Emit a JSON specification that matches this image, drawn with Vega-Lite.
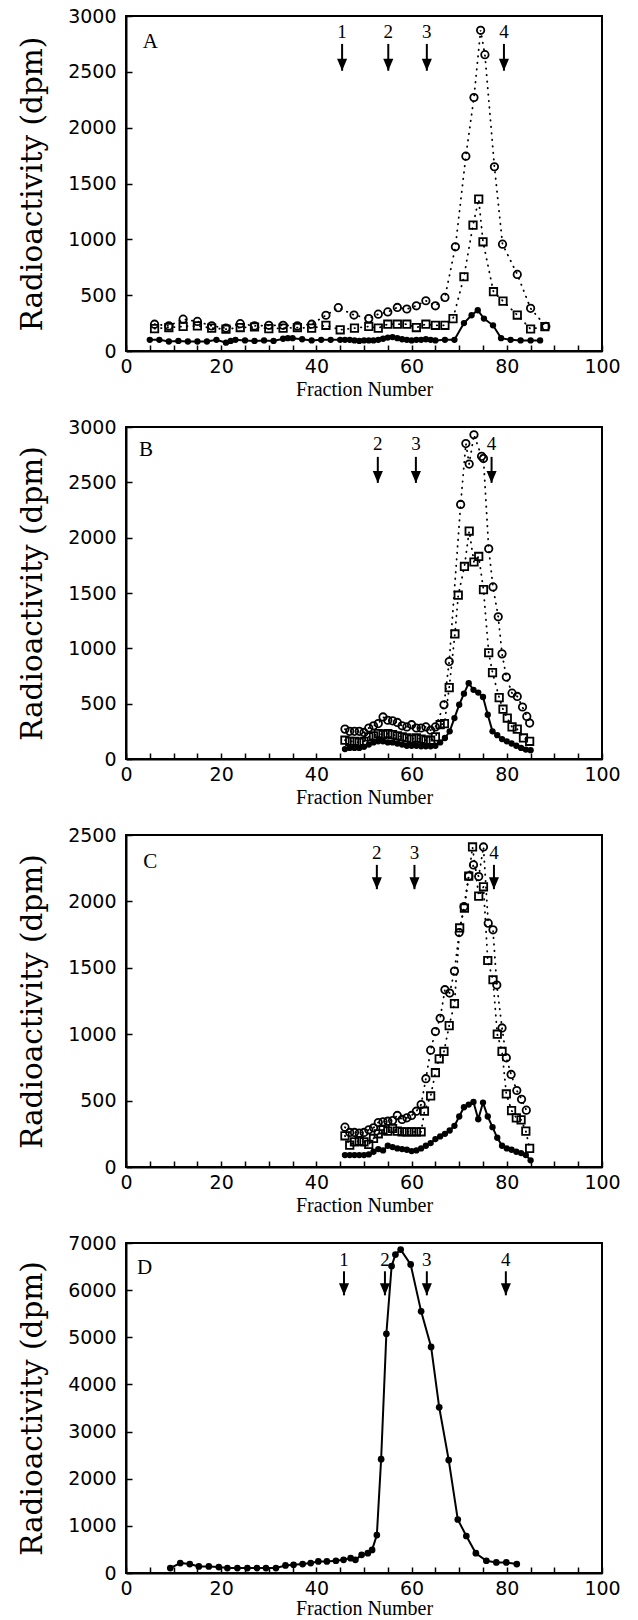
{
"$schema": "https://vega.github.io/schema/vega-lite/v6.json",
"padding": {"left": 16, "top": 6, "right": 5, "bottom": 0},
"background": "white",
"spacing": 76,
"bounds": "flush",
"config": {
 "view": {"stroke": "black", "strokeWidth": 2},
 "axis": {"domainColor": "black", "domainWidth": 2, "tickColor": "black", "tickWidth": 1.5, "grid": false, "labelColor": "black", "titleColor": "black", "labelFont": "DejaVu Sans", "labelFontSize": 19, "titleFontWeight": "normal", "labelFlush": false, "labelOverlap": false, "tickSize": -6},
 "axisX": {"labelPadding": 12, "titleFont": "Liberation Serif", "titleFontSize": 20, "titlePadding": 3},
 "axisY": {"labelPadding": 16, "titleFont": "DejaVu Serif", "titleFontSize": 29.5, "titlePadding": 20, "format": "d"},
 "line": {"color": "black"},
 "point": {"color": "black", "opacity": 1},
 "rule": {"color": "black"},
 "text": {"color": "black"}
},
"datasets": {
 "pts": [
  {"p":"A","s":"solid","f":5,"v":100},{"p":"A","s":"solid","f":7,"v":100},{"p":"A","s":"solid","f":9,"v":85},{"p":"A","s":"solid","f":11,"v":90},{"p":"A","s":"solid","f":13,"v":85},{"p":"A","s":"solid","f":15,"v":85},{"p":"A","s":"solid","f":17,"v":85},{"p":"A","s":"solid","f":19,"v":100},{"p":"A","s":"solid","f":21,"v":75},{"p":"A","s":"solid","f":22,"v":90},{"p":"A","s":"solid","f":23,"v":100},{"p":"A","s":"solid","f":25,"v":95},{"p":"A","s":"solid","f":27,"v":90},{"p":"A","s":"solid","f":29,"v":95},{"p":"A","s":"solid","f":31,"v":90},{"p":"A","s":"solid","f":33,"v":110},{"p":"A","s":"solid","f":34,"v":115},{"p":"A","s":"solid","f":35,"v":115},{"p":"A","s":"solid","f":37,"v":105},{"p":"A","s":"solid","f":39,"v":95},{"p":"A","s":"solid","f":41,"v":100},{"p":"A","s":"solid","f":43,"v":100},{"p":"A","s":"solid","f":45,"v":100},{"p":"A","s":"solid","f":46,"v":100},{"p":"A","s":"solid","f":47,"v":100},{"p":"A","s":"solid","f":48,"v":95},{"p":"A","s":"solid","f":49,"v":90},{"p":"A","s":"solid","f":50,"v":95},{"p":"A","s":"solid","f":51,"v":95},{"p":"A","s":"solid","f":52,"v":95},{"p":"A","s":"solid","f":53,"v":100},{"p":"A","s":"solid","f":54,"v":110},{"p":"A","s":"solid","f":55,"v":120},{"p":"A","s":"solid","f":56,"v":125},{"p":"A","s":"solid","f":57,"v":115},{"p":"A","s":"solid","f":58,"v":105},{"p":"A","s":"solid","f":59,"v":100},{"p":"A","s":"solid","f":60,"v":95},{"p":"A","s":"solid","f":61,"v":100},{"p":"A","s":"solid","f":62,"v":100},{"p":"A","s":"solid","f":63,"v":105},{"p":"A","s":"solid","f":64,"v":100},{"p":"A","s":"solid","f":65,"v":95},{"p":"A","s":"solid","f":67,"v":100},{"p":"A","s":"solid","f":69,"v":100},{"p":"A","s":"solid","f":71,"v":250},{"p":"A","s":"solid","f":72.6,"v":320},{"p":"A","s":"solid","f":73.9,"v":365},{"p":"A","s":"solid","f":75.2,"v":290},{"p":"A","s":"solid","f":77.1,"v":230},{"p":"A","s":"solid","f":78.8,"v":115},{"p":"A","s":"solid","f":80.8,"v":100},{"p":"A","s":"solid","f":82.9,"v":95},{"p":"A","s":"solid","f":85,"v":95},{"p":"A","s":"solid","f":87,"v":95},
  {"p":"A","s":"circle","f":6,"v":240},{"p":"A","s":"circle","f":9,"v":225},{"p":"A","s":"circle","f":12,"v":285},{"p":"A","s":"circle","f":15,"v":265},{"p":"A","s":"circle","f":18,"v":225},{"p":"A","s":"circle","f":21,"v":205},{"p":"A","s":"circle","f":24,"v":245},{"p":"A","s":"circle","f":27,"v":225},{"p":"A","s":"circle","f":30,"v":230},{"p":"A","s":"circle","f":33,"v":230},{"p":"A","s":"circle","f":36,"v":225},{"p":"A","s":"circle","f":39,"v":240},{"p":"A","s":"circle","f":42,"v":320},{"p":"A","s":"circle","f":44.6,"v":388},{"p":"A","s":"circle","f":47.9,"v":322},{"p":"A","s":"circle","f":51,"v":290},{"p":"A","s":"circle","f":53,"v":330},{"p":"A","s":"circle","f":55,"v":350},{"p":"A","s":"circle","f":57,"v":390},{"p":"A","s":"circle","f":59,"v":376},{"p":"A","s":"circle","f":61,"v":405},{"p":"A","s":"circle","f":63,"v":450},{"p":"A","s":"circle","f":65,"v":405},{"p":"A","s":"circle","f":67,"v":480},{"p":"A","s":"circle","f":69.2,"v":933},{"p":"A","s":"circle","f":71.4,"v":1745},{"p":"A","s":"circle","f":73.1,"v":2270},{"p":"A","s":"circle","f":74.5,"v":2872},{"p":"A","s":"circle","f":75.4,"v":2654},{"p":"A","s":"circle","f":77.4,"v":1650},{"p":"A","s":"circle","f":79.1,"v":957},{"p":"A","s":"circle","f":82.2,"v":686},{"p":"A","s":"circle","f":85,"v":382},{"p":"A","s":"circle","f":88.2,"v":220},
  {"p":"A","s":"square","f":6,"v":200},{"p":"A","s":"square","f":9,"v":210},{"p":"A","s":"square","f":12,"v":220},{"p":"A","s":"square","f":15,"v":225},{"p":"A","s":"square","f":18,"v":205},{"p":"A","s":"square","f":21,"v":195},{"p":"A","s":"square","f":24,"v":210},{"p":"A","s":"square","f":27,"v":215},{"p":"A","s":"square","f":30,"v":200},{"p":"A","s":"square","f":33,"v":205},{"p":"A","s":"square","f":36,"v":210},{"p":"A","s":"square","f":39,"v":205},{"p":"A","s":"square","f":42,"v":230},{"p":"A","s":"square","f":45,"v":190},{"p":"A","s":"square","f":48,"v":205},{"p":"A","s":"square","f":51,"v":220},{"p":"A","s":"square","f":53,"v":205},{"p":"A","s":"square","f":55,"v":240},{"p":"A","s":"square","f":57,"v":240},{"p":"A","s":"square","f":59,"v":240},{"p":"A","s":"square","f":61,"v":210},{"p":"A","s":"square","f":63,"v":240},{"p":"A","s":"square","f":65,"v":230},{"p":"A","s":"square","f":67,"v":230},{"p":"A","s":"square","f":68.7,"v":290},{"p":"A","s":"square","f":71,"v":665},{"p":"A","s":"square","f":72.9,"v":1127},{"p":"A","s":"square","f":74.1,"v":1360},{"p":"A","s":"square","f":75,"v":978},{"p":"A","s":"square","f":77.2,"v":531},{"p":"A","s":"square","f":79.2,"v":447},{"p":"A","s":"square","f":82.2,"v":322},{"p":"A","s":"square","f":85,"v":197},{"p":"A","s":"square","f":88,"v":218},
  {"p":"B","s":"solid","f":46,"v":90},{"p":"B","s":"solid","f":47,"v":100},{"p":"B","s":"solid","f":48,"v":100},{"p":"B","s":"solid","f":49,"v":100},{"p":"B","s":"solid","f":50,"v":110},{"p":"B","s":"solid","f":51,"v":130},{"p":"B","s":"solid","f":52,"v":150},{"p":"B","s":"solid","f":53,"v":160},{"p":"B","s":"solid","f":54,"v":160},{"p":"B","s":"solid","f":55,"v":150},{"p":"B","s":"solid","f":56,"v":150},{"p":"B","s":"solid","f":57,"v":140},{"p":"B","s":"solid","f":58,"v":130},{"p":"B","s":"solid","f":59,"v":120},{"p":"B","s":"solid","f":60,"v":120},{"p":"B","s":"solid","f":61,"v":120},{"p":"B","s":"solid","f":62,"v":115},{"p":"B","s":"solid","f":63,"v":115},{"p":"B","s":"solid","f":64,"v":115},{"p":"B","s":"solid","f":65,"v":120},{"p":"B","s":"solid","f":66,"v":150},{"p":"B","s":"solid","f":67,"v":190},{"p":"B","s":"solid","f":68,"v":250},{"p":"B","s":"solid","f":69,"v":370},{"p":"B","s":"solid","f":70,"v":490},{"p":"B","s":"solid","f":71,"v":590},{"p":"B","s":"solid","f":72,"v":685},{"p":"B","s":"solid","f":73,"v":625},{"p":"B","s":"solid","f":74,"v":600},{"p":"B","s":"solid","f":75,"v":560},{"p":"B","s":"solid","f":76,"v":400},{"p":"B","s":"solid","f":77,"v":250},{"p":"B","s":"solid","f":78,"v":215},{"p":"B","s":"solid","f":79,"v":180},{"p":"B","s":"solid","f":80,"v":160},{"p":"B","s":"solid","f":81,"v":140},{"p":"B","s":"solid","f":82,"v":120},{"p":"B","s":"solid","f":83,"v":100},{"p":"B","s":"solid","f":84,"v":85},{"p":"B","s":"solid","f":85,"v":80},
  {"p":"B","s":"circle","f":46,"v":270},{"p":"B","s":"circle","f":47,"v":250},{"p":"B","s":"circle","f":48,"v":250},{"p":"B","s":"circle","f":49,"v":250},{"p":"B","s":"circle","f":50,"v":240},{"p":"B","s":"circle","f":51,"v":280},{"p":"B","s":"circle","f":52,"v":300},{"p":"B","s":"circle","f":53,"v":320},{"p":"B","s":"circle","f":54,"v":380},{"p":"B","s":"circle","f":55,"v":350},{"p":"B","s":"circle","f":56,"v":345},{"p":"B","s":"circle","f":57,"v":330},{"p":"B","s":"circle","f":58,"v":300},{"p":"B","s":"circle","f":59,"v":290},{"p":"B","s":"circle","f":60,"v":310},{"p":"B","s":"circle","f":61,"v":280},{"p":"B","s":"circle","f":62,"v":280},{"p":"B","s":"circle","f":63,"v":290},{"p":"B","s":"circle","f":64,"v":260},{"p":"B","s":"circle","f":65,"v":290},{"p":"B","s":"circle","f":66.8,"v":490},{"p":"B","s":"circle","f":67.9,"v":880},{"p":"B","s":"circle","f":70.3,"v":2300},{"p":"B","s":"circle","f":71.4,"v":2850},{"p":"B","s":"circle","f":72.1,"v":2665},{"p":"B","s":"circle","f":73.1,"v":2930},{"p":"B","s":"circle","f":74.7,"v":2735},{"p":"B","s":"circle","f":75.1,"v":2715},{"p":"B","s":"circle","f":76.2,"v":1900},{"p":"B","s":"circle","f":77.1,"v":1555},{"p":"B","s":"circle","f":78.2,"v":1285},{"p":"B","s":"circle","f":79,"v":950},{"p":"B","s":"circle","f":79.9,"v":740},{"p":"B","s":"circle","f":81.1,"v":595},{"p":"B","s":"circle","f":82.2,"v":565},{"p":"B","s":"circle","f":83.3,"v":470},{"p":"B","s":"circle","f":84.2,"v":385},{"p":"B","s":"circle","f":84.8,"v":325},
  {"p":"B","s":"square","f":46,"v":170},{"p":"B","s":"square","f":47,"v":160},{"p":"B","s":"square","f":48,"v":160},{"p":"B","s":"square","f":49,"v":150},{"p":"B","s":"square","f":50,"v":160},{"p":"B","s":"square","f":51,"v":200},{"p":"B","s":"square","f":52,"v":210},{"p":"B","s":"square","f":53,"v":230},{"p":"B","s":"square","f":54,"v":220},{"p":"B","s":"square","f":55,"v":230},{"p":"B","s":"square","f":56,"v":220},{"p":"B","s":"square","f":57,"v":210},{"p":"B","s":"square","f":58,"v":200},{"p":"B","s":"square","f":59,"v":190},{"p":"B","s":"square","f":60,"v":180},{"p":"B","s":"square","f":61,"v":190},{"p":"B","s":"square","f":62,"v":180},{"p":"B","s":"square","f":63,"v":170},{"p":"B","s":"square","f":64,"v":170},{"p":"B","s":"square","f":65,"v":200},{"p":"B","s":"square","f":66,"v":310},{"p":"B","s":"square","f":66.9,"v":320},{"p":"B","s":"square","f":67.9,"v":645},{"p":"B","s":"square","f":69.1,"v":1130},{"p":"B","s":"square","f":69.8,"v":1480},{"p":"B","s":"square","f":71.1,"v":1740},{"p":"B","s":"square","f":72.1,"v":2060},{"p":"B","s":"square","f":73.1,"v":1780},{"p":"B","s":"square","f":74.1,"v":1830},{"p":"B","s":"square","f":75.1,"v":1530},{"p":"B","s":"square","f":76.2,"v":960},{"p":"B","s":"square","f":77,"v":780},{"p":"B","s":"square","f":78.4,"v":555},{"p":"B","s":"square","f":79.2,"v":450},{"p":"B","s":"square","f":80.1,"v":370},{"p":"B","s":"square","f":81.1,"v":290},{"p":"B","s":"square","f":82.2,"v":270},{"p":"B","s":"square","f":83.5,"v":190},{"p":"B","s":"square","f":84.8,"v":160},
  {"p":"C","s":"solid","f":46,"v":90},{"p":"C","s":"solid","f":47,"v":90},{"p":"C","s":"solid","f":48,"v":90},{"p":"C","s":"solid","f":49,"v":90},{"p":"C","s":"solid","f":50,"v":90},{"p":"C","s":"solid","f":51,"v":95},{"p":"C","s":"solid","f":52,"v":115},{"p":"C","s":"solid","f":53,"v":135},{"p":"C","s":"solid","f":54,"v":125},{"p":"C","s":"solid","f":55,"v":160},{"p":"C","s":"solid","f":56,"v":150},{"p":"C","s":"solid","f":57,"v":140},{"p":"C","s":"solid","f":58,"v":135},{"p":"C","s":"solid","f":59,"v":130},{"p":"C","s":"solid","f":60,"v":120},{"p":"C","s":"solid","f":61,"v":125},{"p":"C","s":"solid","f":62,"v":140},{"p":"C","s":"solid","f":63,"v":160},{"p":"C","s":"solid","f":64,"v":180},{"p":"C","s":"solid","f":65,"v":210},{"p":"C","s":"solid","f":66,"v":230},{"p":"C","s":"solid","f":67,"v":250},{"p":"C","s":"solid","f":68,"v":275},{"p":"C","s":"solid","f":69,"v":310},{"p":"C","s":"solid","f":70,"v":380},{"p":"C","s":"solid","f":71,"v":450},{"p":"C","s":"solid","f":72,"v":470},{"p":"C","s":"solid","f":73,"v":490},{"p":"C","s":"solid","f":74,"v":360},{"p":"C","s":"solid","f":75,"v":485},{"p":"C","s":"solid","f":76,"v":380},{"p":"C","s":"solid","f":77,"v":300},{"p":"C","s":"solid","f":78,"v":220},{"p":"C","s":"solid","f":79,"v":160},{"p":"C","s":"solid","f":80,"v":140},{"p":"C","s":"solid","f":81,"v":130},{"p":"C","s":"solid","f":82,"v":115},{"p":"C","s":"solid","f":83,"v":105},{"p":"C","s":"solid","f":84,"v":90},{"p":"C","s":"solid","f":85,"v":50},
  {"p":"C","s":"circle","f":46,"v":300},{"p":"C","s":"circle","f":47,"v":260},{"p":"C","s":"circle","f":48,"v":260},{"p":"C","s":"circle","f":49,"v":255},{"p":"C","s":"circle","f":50,"v":260},{"p":"C","s":"circle","f":51,"v":280},{"p":"C","s":"circle","f":52,"v":295},{"p":"C","s":"circle","f":53,"v":335},{"p":"C","s":"circle","f":54,"v":340},{"p":"C","s":"circle","f":55,"v":345},{"p":"C","s":"circle","f":56,"v":350},{"p":"C","s":"circle","f":57,"v":388},{"p":"C","s":"circle","f":58,"v":358},{"p":"C","s":"circle","f":59,"v":370},{"p":"C","s":"circle","f":60,"v":388},{"p":"C","s":"circle","f":61,"v":420},{"p":"C","s":"circle","f":62,"v":470},{"p":"C","s":"circle","f":63,"v":665},{"p":"C","s":"circle","f":64,"v":880},{"p":"C","s":"circle","f":65,"v":1020},{"p":"C","s":"circle","f":66,"v":1120},{"p":"C","s":"circle","f":67,"v":1335},{"p":"C","s":"circle","f":68,"v":1310},{"p":"C","s":"circle","f":69,"v":1475},{"p":"C","s":"circle","f":70,"v":1765},{"p":"C","s":"circle","f":71,"v":1960},{"p":"C","s":"circle","f":72,"v":2190},{"p":"C","s":"circle","f":73,"v":2275},{"p":"C","s":"circle","f":74.1,"v":2187},{"p":"C","s":"circle","f":75.1,"v":2410},{"p":"C","s":"circle","f":76.1,"v":1836},{"p":"C","s":"circle","f":77.1,"v":1786},{"p":"C","s":"circle","f":77.9,"v":1370},{"p":"C","s":"circle","f":79,"v":1047},{"p":"C","s":"circle","f":79.9,"v":822},{"p":"C","s":"circle","f":80.9,"v":697},{"p":"C","s":"circle","f":82.1,"v":576},{"p":"C","s":"circle","f":83.1,"v":510},{"p":"C","s":"circle","f":84.1,"v":428},
  {"p":"C","s":"square","f":46,"v":235},{"p":"C","s":"square","f":47,"v":165},{"p":"C","s":"square","f":48,"v":190},{"p":"C","s":"square","f":49,"v":195},{"p":"C","s":"square","f":50,"v":190},{"p":"C","s":"square","f":51,"v":170},{"p":"C","s":"square","f":52,"v":215},{"p":"C","s":"square","f":53,"v":250},{"p":"C","s":"square","f":54,"v":280},{"p":"C","s":"square","f":55,"v":270},{"p":"C","s":"square","f":56,"v":290},{"p":"C","s":"square","f":57,"v":270},{"p":"C","s":"square","f":58,"v":265},{"p":"C","s":"square","f":59,"v":265},{"p":"C","s":"square","f":60,"v":265},{"p":"C","s":"square","f":61,"v":265},{"p":"C","s":"square","f":62,"v":265},{"p":"C","s":"square","f":62.7,"v":420},{"p":"C","s":"square","f":64,"v":535},{"p":"C","s":"square","f":65,"v":710},{"p":"C","s":"square","f":65.8,"v":815},{"p":"C","s":"square","f":66.8,"v":870},{"p":"C","s":"square","f":67.9,"v":1065},{"p":"C","s":"square","f":69,"v":1230},{"p":"C","s":"square","f":70.1,"v":1800},{"p":"C","s":"square","f":71.1,"v":1950},{"p":"C","s":"square","f":72,"v":2190},{"p":"C","s":"square","f":72.8,"v":2410},{"p":"C","s":"square","f":74.1,"v":2040},{"p":"C","s":"square","f":75.1,"v":2110},{"p":"C","s":"square","f":76,"v":1555},{"p":"C","s":"square","f":77.1,"v":1410},{"p":"C","s":"square","f":78,"v":1000},{"p":"C","s":"square","f":79,"v":870},{"p":"C","s":"square","f":79.9,"v":550},{"p":"C","s":"square","f":81,"v":425},{"p":"C","s":"square","f":82,"v":370},{"p":"C","s":"square","f":83,"v":355},{"p":"C","s":"square","f":84,"v":270},{"p":"C","s":"square","f":84.8,"v":140},
  {"p":"D","s":"solid","f":9.3,"v":105},{"p":"D","s":"solid","f":11.4,"v":210},{"p":"D","s":"solid","f":13.4,"v":190},{"p":"D","s":"solid","f":15.3,"v":140},{"p":"D","s":"solid","f":17.4,"v":140},{"p":"D","s":"solid","f":19.5,"v":126},{"p":"D","s":"solid","f":21.3,"v":105},{"p":"D","s":"solid","f":23.4,"v":105},{"p":"D","s":"solid","f":25.5,"v":105},{"p":"D","s":"solid","f":27.5,"v":105},{"p":"D","s":"solid","f":29.4,"v":105},{"p":"D","s":"solid","f":31.5,"v":105},{"p":"D","s":"solid","f":33.5,"v":160},{"p":"D","s":"solid","f":35.2,"v":175},{"p":"D","s":"solid","f":37.1,"v":190},{"p":"D","s":"solid","f":38.8,"v":210},{"p":"D","s":"solid","f":40.4,"v":245},{"p":"D","s":"solid","f":42.2,"v":245},{"p":"D","s":"solid","f":44.1,"v":260},{"p":"D","s":"solid","f":45.7,"v":280},{"p":"D","s":"solid","f":47.2,"v":315},{"p":"D","s":"solid","f":48.2,"v":280},{"p":"D","s":"solid","f":49.5,"v":385},{"p":"D","s":"solid","f":50.8,"v":420},{"p":"D","s":"solid","f":51.7,"v":490},{"p":"D","s":"solid","f":52.7,"v":805},{"p":"D","s":"solid","f":53.6,"v":2415},{"p":"D","s":"solid","f":54.7,"v":5075},{"p":"D","s":"solid","f":55.8,"v":6510},{"p":"D","s":"solid","f":56.6,"v":6755},{"p":"D","s":"solid","f":57.7,"v":6860},{"p":"D","s":"solid","f":59.8,"v":6545},{"p":"D","s":"solid","f":62,"v":5550},{"p":"D","s":"solid","f":64.1,"v":4795},{"p":"D","s":"solid","f":65.8,"v":3515},{"p":"D","s":"solid","f":67.8,"v":2395},{"p":"D","s":"solid","f":69.7,"v":1135},{"p":"D","s":"solid","f":71.5,"v":785},{"p":"D","s":"solid","f":73.5,"v":420},{"p":"D","s":"solid","f":75.7,"v":260},{"p":"D","s":"solid","f":77.8,"v":225},{"p":"D","s":"solid","f":79.9,"v":225},{"p":"D","s":"solid","f":82.1,"v":190}
 ],
 "arrows": [
  {"p":"A","f":45.4,"v":2510,"v2":2750},{"p":"A","f":55.1,"v":2510,"v2":2750},{"p":"A","f":63.2,"v":2510,"v2":2750},{"p":"A","f":79.4,"v":2510,"v2":2750},
  {"p":"B","f":52.9,"v":2495,"v2":2730},{"p":"B","f":60.9,"v":2495,"v2":2730},{"p":"B","f":76.8,"v":2495,"v2":2730},
  {"p":"C","f":52.7,"v":2092,"v2":2275},{"p":"C","f":60.6,"v":2092,"v2":2275},{"p":"C","f":77.3,"v":2092,"v2":2275},
  {"p":"D","f":45.8,"v":5890,"v2":6400},{"p":"D","f":54.4,"v":5890,"v2":6400},{"p":"D","f":63.2,"v":5890,"v2":6400},{"p":"D","f":79.8,"v":5890,"v2":6400}
 ],
 "arrowlabels": [
  {"p":"A","lab":"1","f":45.4,"v":2860},{"p":"A","lab":"2","f":55.1,"v":2860},{"p":"A","lab":"3","f":63.2,"v":2860},{"p":"A","lab":"4","f":79.4,"v":2860},
  {"p":"B","lab":"2","f":52.9,"v":2843},{"p":"B","lab":"3","f":60.9,"v":2843},{"p":"B","lab":"4","f":76.8,"v":2843},
  {"p":"C","lab":"2","f":52.7,"v":2362},{"p":"C","lab":"3","f":60.6,"v":2362},{"p":"C","lab":"4","f":77.3,"v":2362},
  {"p":"D","lab":"1","f":45.8,"v":6650},{"p":"D","lab":"2","f":54.4,"v":6650},{"p":"D","lab":"3","f":63.2,"v":6650},{"p":"D","lab":"4","f":79.8,"v":6650}
 ],
 "letters": [
  {"p":"A","lab":"A","f":5.1,"v":2767},
  {"p":"B","lab":"B","f":4.2,"v":2790},
  {"p":"C","lab":"C","f":5.1,"v":2300},
  {"p":"D","lab":"D","f":3.9,"v":6473}
 ]
},
"vconcat": [
 {"width": 476, "height": 335,
  "encoding": {
   "x": {"field":"f","type":"quantitative","scale":{"domain":[0,100],"nice":false},"title":"Fraction Number","axis":{"values":[0,5,10,15,20,25,30,35,40,45,50,55,60,65,70,75,80,85,90,95,100],"labelExpr":"datum.value % 20 === 0 ? datum.label : ''"}},
   "y": {"field":"v","type":"quantitative","scale":{"domain":[0,3000],"nice":false},"title":"Radioactivity (dpm)","axis":{"values":[0,500,1000,1500,2000,2500,3000]}}
  },
  "layer": [
   {"data":{"name":"pts"},"transform":[{"filter":"datum.p==='A' && datum.s==='solid'"}],"mark":{"type":"line","strokeWidth":2}},
   {"data":{"name":"pts"},"transform":[{"filter":"datum.p==='A' && datum.s==='solid'"}],"mark":{"type":"point","shape":"circle","filled":true,"size":40}},
   {"data":{"name":"pts"},"transform":[{"filter":"datum.p==='A' && datum.s!=='solid'"}],"mark":{"type":"line","strokeWidth":1.8,"strokeDash":[0.5,6],"strokeCap":"round"},"encoding":{"detail":{"field":"s"}}},
   {"data":{"name":"pts"},"transform":[{"filter":"datum.p==='A' && datum.s==='circle'"}],"mark":{"type":"point","shape":"circle","filled":false,"strokeWidth":1.8,"size":55}},
   {"data":{"name":"pts"},"transform":[{"filter":"datum.p==='A' && datum.s==='square'"}],"mark":{"type":"point","shape":"square","filled":false,"strokeWidth":1.8,"size":55}},
   {"data":{"name":"arrows"},"transform":[{"filter":"datum.p==='A'"}],"mark":{"type":"rule","strokeWidth":2},"encoding":{"y2":{"field":"v2"}}},
   {"data":{"name":"arrows"},"transform":[{"filter":"datum.p==='A'"}],"mark":{"type":"point","shape":"M-0.42,-1L0.42,-1L0,0Z","filled":true,"size":576}},
   {"data":{"name":"arrowlabels"},"transform":[{"filter":"datum.p==='A'"}],"mark":{"type":"text","font":"Liberation Serif","fontSize":19,"baseline":"middle"},"encoding":{"text":{"field":"lab"}}},
   {"data":{"name":"letters"},"transform":[{"filter":"datum.p==='A'"}],"mark":{"type":"text","font":"Liberation Serif","fontSize":21,"baseline":"middle"},"encoding":{"text":{"field":"lab"}}}
  ]},
 {"width": 476, "height": 332,
  "encoding": {
   "x": {"field":"f","type":"quantitative","scale":{"domain":[0,100],"nice":false},"title":"Fraction Number","axis":{"values":[0,5,10,15,20,25,30,35,40,45,50,55,60,65,70,75,80,85,90,95,100],"labelExpr":"datum.value % 20 === 0 ? datum.label : ''"}},
   "y": {"field":"v","type":"quantitative","scale":{"domain":[0,3000],"nice":false},"title":"Radioactivity (dpm)","axis":{"values":[0,500,1000,1500,2000,2500,3000]}}
  },
  "layer": [
   {"data":{"name":"pts"},"transform":[{"filter":"datum.p==='B' && datum.s==='solid'"}],"mark":{"type":"line","strokeWidth":2}},
   {"data":{"name":"pts"},"transform":[{"filter":"datum.p==='B' && datum.s==='solid'"}],"mark":{"type":"point","shape":"circle","filled":true,"size":40}},
   {"data":{"name":"pts"},"transform":[{"filter":"datum.p==='B' && datum.s!=='solid'"}],"mark":{"type":"line","strokeWidth":1.8,"strokeDash":[0.5,6],"strokeCap":"round"},"encoding":{"detail":{"field":"s"}}},
   {"data":{"name":"pts"},"transform":[{"filter":"datum.p==='B' && datum.s==='circle'"}],"mark":{"type":"point","shape":"circle","filled":false,"strokeWidth":1.8,"size":55}},
   {"data":{"name":"pts"},"transform":[{"filter":"datum.p==='B' && datum.s==='square'"}],"mark":{"type":"point","shape":"square","filled":false,"strokeWidth":1.8,"size":55}},
   {"data":{"name":"arrows"},"transform":[{"filter":"datum.p==='B'"}],"mark":{"type":"rule","strokeWidth":2},"encoding":{"y2":{"field":"v2"}}},
   {"data":{"name":"arrows"},"transform":[{"filter":"datum.p==='B'"}],"mark":{"type":"point","shape":"M-0.42,-1L0.42,-1L0,0Z","filled":true,"size":576}},
   {"data":{"name":"arrowlabels"},"transform":[{"filter":"datum.p==='B'"}],"mark":{"type":"text","font":"Liberation Serif","fontSize":19,"baseline":"middle"},"encoding":{"text":{"field":"lab"}}},
   {"data":{"name":"letters"},"transform":[{"filter":"datum.p==='B'"}],"mark":{"type":"text","font":"Liberation Serif","fontSize":21,"baseline":"middle"},"encoding":{"text":{"field":"lab"}}}
  ]},
 {"width": 476, "height": 332,
  "encoding": {
   "x": {"field":"f","type":"quantitative","scale":{"domain":[0,100],"nice":false},"title":"Fraction Number","axis":{"values":[0,5,10,15,20,25,30,35,40,45,50,55,60,65,70,75,80,85,90,95,100],"labelExpr":"datum.value % 20 === 0 ? datum.label : ''"}},
   "y": {"field":"v","type":"quantitative","scale":{"domain":[0,2500],"nice":false},"title":"Radioactivity (dpm)","axis":{"values":[0,500,1000,1500,2000,2500]}}
  },
  "layer": [
   {"data":{"name":"pts"},"transform":[{"filter":"datum.p==='C' && datum.s==='solid'"}],"mark":{"type":"line","strokeWidth":2}},
   {"data":{"name":"pts"},"transform":[{"filter":"datum.p==='C' && datum.s==='solid'"}],"mark":{"type":"point","shape":"circle","filled":true,"size":40}},
   {"data":{"name":"pts"},"transform":[{"filter":"datum.p==='C' && datum.s!=='solid'"}],"mark":{"type":"line","strokeWidth":1.8,"strokeDash":[0.5,6],"strokeCap":"round"},"encoding":{"detail":{"field":"s"}}},
   {"data":{"name":"pts"},"transform":[{"filter":"datum.p==='C' && datum.s==='circle'"}],"mark":{"type":"point","shape":"circle","filled":false,"strokeWidth":1.8,"size":55}},
   {"data":{"name":"pts"},"transform":[{"filter":"datum.p==='C' && datum.s==='square'"}],"mark":{"type":"point","shape":"square","filled":false,"strokeWidth":1.8,"size":55}},
   {"data":{"name":"arrows"},"transform":[{"filter":"datum.p==='C'"}],"mark":{"type":"rule","strokeWidth":2},"encoding":{"y2":{"field":"v2"}}},
   {"data":{"name":"arrows"},"transform":[{"filter":"datum.p==='C'"}],"mark":{"type":"point","shape":"M-0.42,-1L0.42,-1L0,0Z","filled":true,"size":576}},
   {"data":{"name":"arrowlabels"},"transform":[{"filter":"datum.p==='C'"}],"mark":{"type":"text","font":"Liberation Serif","fontSize":19,"baseline":"middle"},"encoding":{"text":{"field":"lab"}}},
   {"data":{"name":"letters"},"transform":[{"filter":"datum.p==='C'"}],"mark":{"type":"text","font":"Liberation Serif","fontSize":21,"baseline":"middle"},"encoding":{"text":{"field":"lab"}}}
  ]},
 {"width": 476, "height": 330,
  "encoding": {
   "x": {"field":"f","type":"quantitative","scale":{"domain":[0,100],"nice":false},"title":"Fraction Number","axis":{"values":[0,5,10,15,20,25,30,35,40,45,50,55,60,65,70,75,80,85,90,95,100],"labelExpr":"datum.value % 20 === 0 ? datum.label : ''","titlePadding":0}},
   "y": {"field":"v","type":"quantitative","scale":{"domain":[0,7000],"nice":false},"title":"Radioactivity (dpm)","axis":{"values":[0,1000,2000,3000,4000,5000,6000,7000]}}
  },
  "layer": [
   {"data":{"name":"pts"},"transform":[{"filter":"datum.p==='D' && datum.s==='solid'"}],"mark":{"type":"line","strokeWidth":2}},
   {"data":{"name":"pts"},"transform":[{"filter":"datum.p==='D' && datum.s==='solid'"}],"mark":{"type":"point","shape":"circle","filled":true,"size":45}},
   {"data":{"name":"arrows"},"transform":[{"filter":"datum.p==='D'"}],"mark":{"type":"rule","strokeWidth":2},"encoding":{"y2":{"field":"v2"}}},
   {"data":{"name":"arrows"},"transform":[{"filter":"datum.p==='D'"}],"mark":{"type":"point","shape":"M-0.42,-1L0.42,-1L0,0Z","filled":true,"size":576}},
   {"data":{"name":"arrowlabels"},"transform":[{"filter":"datum.p==='D'"}],"mark":{"type":"text","font":"Liberation Serif","fontSize":19,"baseline":"middle"},"encoding":{"text":{"field":"lab"}}},
   {"data":{"name":"letters"},"transform":[{"filter":"datum.p==='D'"}],"mark":{"type":"text","font":"Liberation Serif","fontSize":21,"baseline":"middle"},"encoding":{"text":{"field":"lab"}}}
  ]}
]
}
